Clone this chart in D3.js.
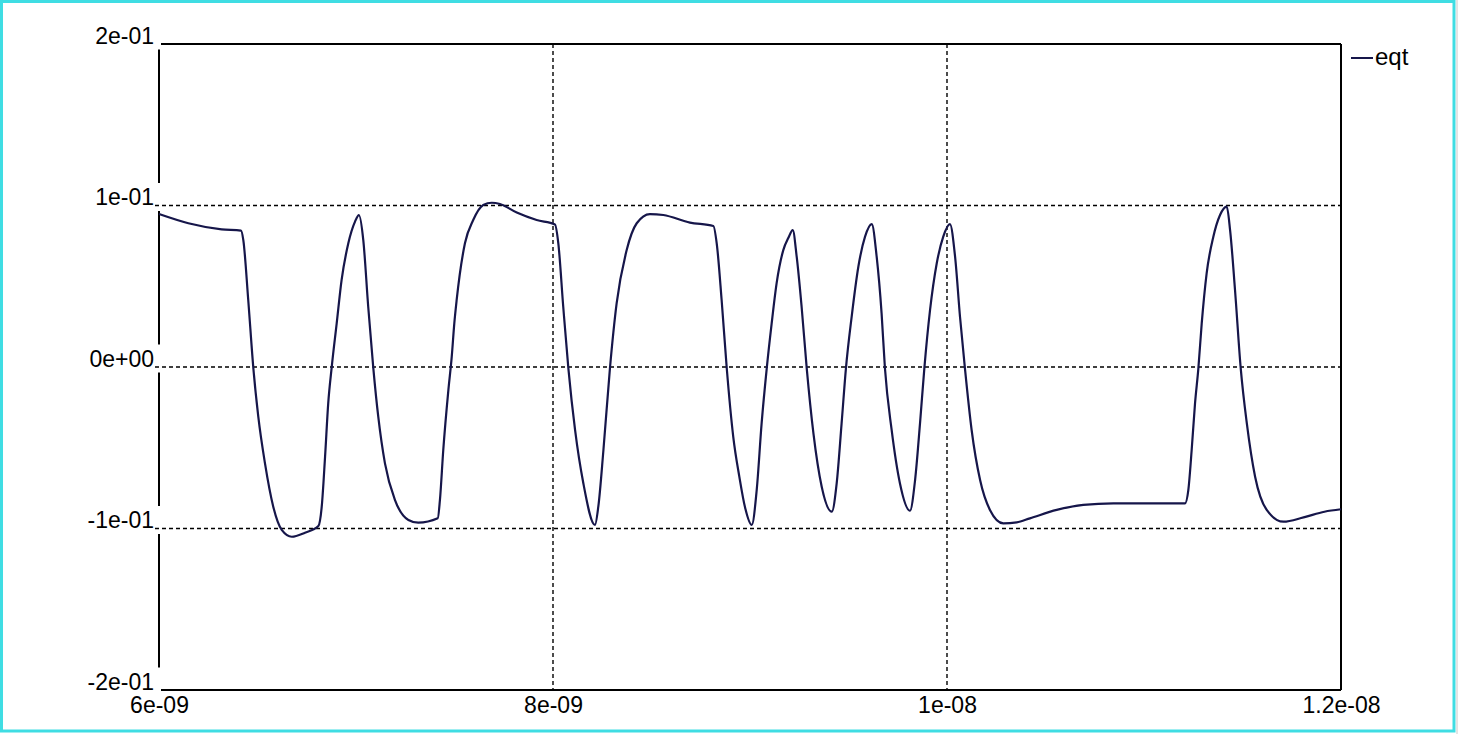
<!DOCTYPE html>
<meta charset="utf-8">
<style>
    body {
        margin: 0;
        overflow: hidden;
        background: #fff;
    }

    text {
        font-family: "Liberation Sans", Arial, sans-serif;
    }
</style>
<div id="container"></div>
<script src="https://cdn.jsdelivr.net/npm/d3@7"></script>
<script>
    // time in ns
    const timeNs = [
        6.000, 6.149, 6.318, 6.416, 6.428, 6.453, 6.479, 6.504, 6.538, 6.580,
        6.623, 6.674, 6.741, 6.809, 6.826, 6.843, 6.859, 6.877, 6.902, 6.927,
        6.961, 6.995, 7.015, 7.037, 7.062, 7.088, 7.113, 7.147, 7.198, 7.266,
        7.316, 7.415, 7.426, 7.443, 7.469, 7.486, 7.499, 7.511, 7.553, 7.595,
        7.646, 7.689, 7.731, 7.816, 7.917, 8.010, 8.027, 8.052, 8.078, 8.112,
        8.154, 8.213, 8.230, 8.256, 8.289, 8.323, 8.374, 8.425, 8.492, 8.560,
        8.695, 8.814, 8.831, 8.856, 8.882, 8.915, 8.946, 8.975, 9.009,
        9.034, 9.059, 9.085, 9.110, 9.135, 9.169, 9.195, 9.217, 9.237, 9.262,
        9.288, 9.322, 9.364, 9.415, 9.440, 9.465, 9.487, 9.516, 9.550, 9.584,
        9.618, 9.643, 9.668, 9.685, 9.719, 9.761, 9.812, 9.838, 9.863, 9.885,
        9.914, 9.948, 9.981, 10.015, 10.041, 10.066, 10.091, 10.125, 10.168, 10.218,
        10.286, 10.354, 10.421, 10.557, 10.692, 10.844, 11.208, 11.225, 11.242, 11.259,
        11.276, 11.293, 11.318, 11.352, 11.386, 11.420, 11.437, 11.462, 11.491, 11.522,
        11.564, 11.623, 11.708, 11.810, 11.916, 12.000
    ];
    const eqt = [
        0.0947, 0.0890, 0.0852, 0.0844, 0.0786, 0.0415, -0.0008, -0.0308, -0.0597, -0.0865,
        -0.1009, -0.1051, -0.1026, -0.0985, -0.0865, -0.0555, -0.0225, 0.0002, 0.0270, 0.0539,
        0.0766, 0.0900, 0.0941, 0.0786, 0.0373, -0.0008, -0.0308, -0.0597, -0.0824, -0.0947,
        -0.0964, -0.0937, -0.0824, -0.0514, -0.0142, 0.0064, 0.0270, 0.0415, 0.0766, 0.0910,
        0.1003, 0.1017, 0.1009, 0.0956, 0.0910, 0.0883, 0.0766, 0.0373, -0.0008, -0.0390,
        -0.0720, -0.0978, -0.0865, -0.0514, -0.0008, 0.0394, 0.0724, 0.0890, 0.0947, 0.0941,
        0.0894, 0.0873, 0.0766, 0.0415, -0.0008, -0.0432, -0.0680, -0.0870, -0.0978,
        -0.0762, -0.0349, -0.0008, 0.0270, 0.0518, 0.0724, 0.0800, 0.0848, 0.0683, 0.0373,
        -0.0008, -0.0411, -0.0741, -0.0896, -0.0720, -0.0349, -0.0008, 0.0311, 0.0621, 0.0807,
        0.0885, 0.0683, 0.0332, -0.0008, -0.0390, -0.0720, -0.0890, -0.0700, -0.0349, -0.0008,
        0.0353, 0.0642, 0.0807, 0.0885, 0.0683, 0.0311, -0.0008, -0.0390, -0.0700, -0.0885,
        -0.0968, -0.0962, -0.0937, -0.0885, -0.0854, -0.0844, -0.0844, -0.0762, -0.0514, -0.0225,
        -0.0008, 0.0270, 0.0580, 0.0807, 0.0941, 0.0993, 0.0848, 0.0477, -0.0008, -0.0349,
        -0.0679, -0.0885, -0.0958, -0.0931, -0.0896, -0.0881
    ];

    const xTicks = [6e-9, 8e-9, 1e-8, 1.2e-8];
    const xTickLabels = ["6e-09", "8e-09", "1e-08", "1.2e-08"];
    const yTicks = [0.2, 0.1, 0, -0.1, -0.2];
    const yTickLabels = ["2e-01", "1e-01", "0e+00", "-1e-01", "-2e-01"];
    const seriesName = "eqt";

    const width = 1459;
    const height = 734;
    const plot = {left: 159, right: 1341, top: 44, bottom: 690};

    const data = timeNs.map((t, i) => ({t: t * 1e-9, v: eqt[i]}));

    const x = d3.scaleLinear().domain([6e-9, 1.2e-8]).range([plot.left, plot.right]);
    const y = d3.scaleLinear().domain([-0.2, 0.2]).range([plot.bottom, plot.top]);

    const svg = d3.select("#container").append("svg")
        .attr("width", width)
        .attr("height", height);

    // outer cyan frame
    svg.append("rect")
        .attr("x", 1.5).attr("y", 1.5)
        .attr("width", 1452.5).attr("height", 729.5)
        .attr("fill", "#fff")
        .attr("stroke", "#3fdde3")
        .attr("stroke-width", 3);
    svg.append("line")
        .attr("x1", 1457).attr("x2", 1457).attr("y1", 0).attr("y2", height)
        .attr("stroke", "#c8c8c8").attr("stroke-width", 1);

    // plot frame: left axis line (labels mask it), top, bottom, right
    const frame = svg.append("g").attr("stroke", "#000").attr("stroke-width", 2);
    frame.append("line").attr("x1", plot.left).attr("x2", plot.left).attr("y1", plot.top).attr("y2", plot.bottom);
    frame.append("line").attr("x1", plot.left).attr("x2", plot.right).attr("y1", plot.top).attr("y2", plot.top);
    frame.append("line").attr("x1", plot.left).attr("x2", plot.right).attr("y1", plot.bottom).attr("y2", plot.bottom);
    frame.append("line").attr("x1", plot.right).attr("x2", plot.right).attr("y1", plot.top).attr("y2", plot.bottom);

    // y axis labels with white boxes that break the left axis line
    const yAxis = svg.append("g")
        .attr("transform", `translate(${plot.left},0)`)
        .call(d3.axisLeft(y)
            .tickValues(yTicks)
            .tickSize(0)
            .tickPadding(5)
            .tickFormat((d, i) => yTickLabels[i]));
    yAxis.select(".domain").remove();
    yAxis.selectAll(".tick").insert("rect", "text")
        .attr("x", -70).attr("y", -23)
        .attr("width", 72).attr("height", 28)
        .attr("fill", "#fff");
    yAxis.selectAll(".tick text")
        .attr("dy", 0)
        .attr("y", -1)
        .attr("fill", "#000")
        .style("font-size", "23px")
        .style("font-family", "'Liberation Sans', Arial, sans-serif");

    // x axis labels
    const xAxis = svg.append("g")
        .attr("transform", `translate(0,${plot.bottom})`)
        .call(d3.axisBottom(x)
            .tickValues(xTicks)
            .tickSize(0)
            .tickFormat((d, i) => xTickLabels[i]));
    xAxis.select(".domain").remove();
    xAxis.selectAll(".tick text")
        .attr("dy", 0)
        .attr("y", 23)
        .attr("fill", "#000")
        .style("font-size", "23px")
        .style("font-family", "'Liberation Sans', Arial, sans-serif");

    // dashed grid
    const grid = svg.append("g")
        .attr("stroke", "#000")
        .attr("stroke-width", 1.4)
        .attr("stroke-dasharray", "4,3");
    grid.selectAll(".hgrid")
        .data(yTicks.filter(d => d !== 0.2 && d !== -0.2))
        .join("line")
        .attr("x1", plot.left - 4).attr("x2", plot.right)
        .attr("y1", d => y(d)).attr("y2", d => y(d));
    grid.selectAll(".vgrid")
        .data(xTicks.slice(1, -1))
        .join("line")
        .attr("x1", d => x(d)).attr("x2", d => x(d))
        .attr("y1", plot.top).attr("y2", plot.bottom);

    // trace
    const line = d3.line()
        .x(d => x(d.t))
        .y(d => y(d.v))
        .curve(d3.curveMonotoneX);

    svg.append("path")
        .datum(data)
        .attr("fill", "none")
        .attr("stroke", "#16164a")
        .attr("stroke-width", 2.2)
        .attr("stroke-linejoin", "round")
        .attr("d", line);

    // legend
    const legend = svg.append("g").attr("transform", `translate(${plot.right + 10},58)`);
    legend.append("line")
        .attr("x1", 0).attr("x2", 22).attr("y1", 0).attr("y2", 0)
        .attr("stroke", "#16164a").attr("stroke-width", 2);
    legend.append("text")
        .attr("x", 24).attr("y", 7)
        .attr("fill", "#000")
        .style("font-size", "24px")
        .text(seriesName);
</script>
